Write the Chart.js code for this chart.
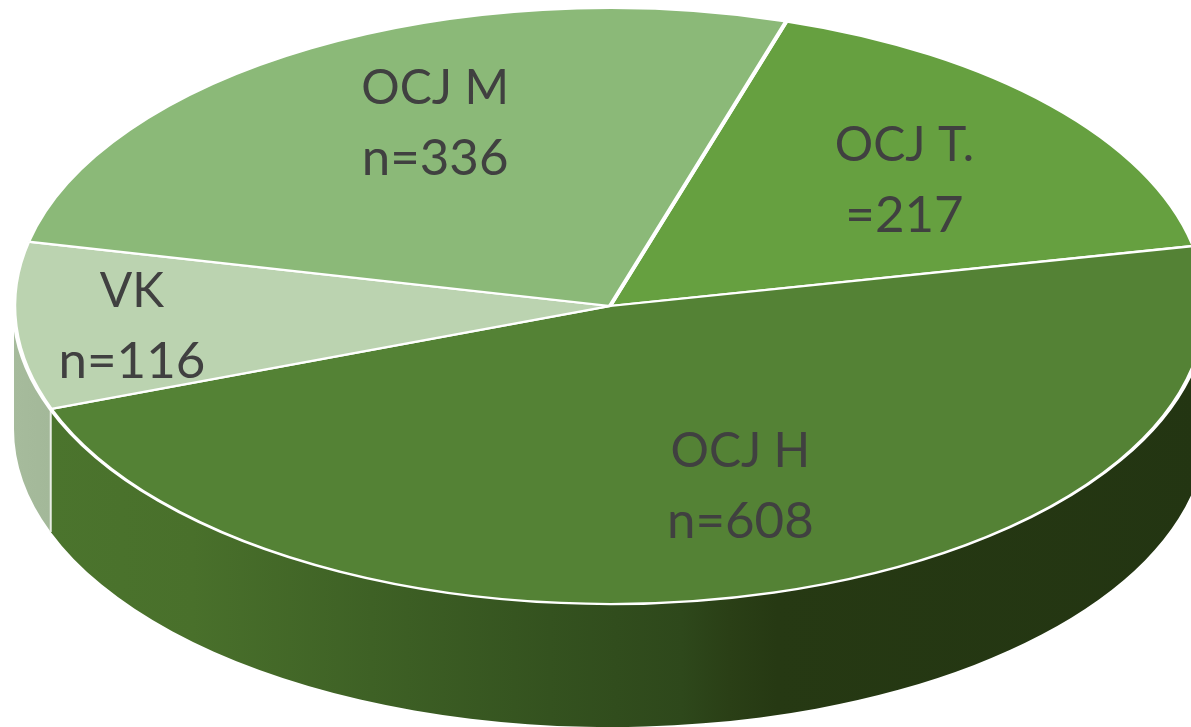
<!DOCTYPE html>
<html>
<head>
<meta charset="utf-8">
<style>
  html, body { margin: 0; background: #fff; overflow: hidden; }
  canvas { display: block; }
</style>
<script src="https://cdn.jsdelivr.net/npm/chart.js@4"></script>
</head>
<body>
<canvas id="pie" width="1191" height="727"></canvas>
<script>
// slices, clockwise from the top-right one
const names  = ['OCJ T.', 'OCJ H', 'VK', 'OCJ M'];
const counts = ['=217', 'n=608', 'n=116', 'n=336'];
const values = [217, 608, 116, 336];

const colors = ['#66a040', '#548235', '#bbd3b0', '#8bb978'];

const SQUASH = 0.5;     // tilt of the disc
const DEPTH  = 123;     // height of the side wall
const RADIUS = 596;

// side wall shading per slice, [position along x, colour]
const wallStops = {
  1: [[0.03, '#4b742d'], [0.15, '#49702b'], [0.3, '#3e6125'], [0.45, '#34521f'], [0.56, '#2e481b'], [0.6, '#2a3f16'], [0.64, '#263913'], [1, '#233512']],
  2: [[0, '#a6bb9c'], [0.03, '#a3b899']]
};

// label nudges from the slice centre, polar: radius fraction, degrees
const labelSpots = [[0.65, 1.7], [0.645, -3.9], [0.805, -1], [0.68, 4.6]];

const depthPlugin = {
  id: 'depth',
  beforeDatasetsDraw(chart) {
    const ctx = chart.ctx;
    const arcs = chart.getDatasetMeta(0).data;
    const cx = arcs[0].x, cy = arcs[0].y;
    const r = arcs[0].outerRadius, ry = r * SQUASH;

    // walls first
    arcs.forEach((arc, i) => {
      const lo = Math.max(arc.startAngle, 0);
      const hi = Math.min(arc.endAngle, Math.PI);
      if (lo >= hi) return;
      const g = ctx.createLinearGradient(cx - r, 0, cx + r, 0);
      (wallStops[i] || []).forEach(s => g.addColorStop(s[0], s[1]));
      ctx.beginPath();
      ctx.ellipse(cx, cy, r, ry, 0, lo, hi);
      ctx.ellipse(cx, cy + DEPTH, r, ry, 0, hi, lo, true);
      ctx.closePath();
      ctx.fillStyle = g;
      ctx.fill();
      // seam between two wall pieces
      if (lo > 0) {
        const x = cx + r * Math.cos(lo), y = cy + ry * Math.sin(lo);
        ctx.beginPath();
        ctx.moveTo(x, y);
        ctx.lineTo(x, y + DEPTH);
        ctx.strokeStyle = '#e8ece4';
        ctx.lineWidth = 2;
        ctx.stroke();
      }
    });

    // squash the pie itself
    ctx.save();
    ctx.translate(cx, cy);
    ctx.scale(1, SQUASH);
    ctx.translate(-cx, -cy);
  },
  afterDatasetsDraw(chart) {
    const ctx = chart.ctx;
    ctx.restore();

    const arcs = chart.getDatasetMeta(0).data;
    ctx.fillStyle = '#404040';
    ctx.textAlign = 'center';
    ctx.textBaseline = 'middle';
    arcs.forEach((arc, i) => {
      const mid = (arc.startAngle + arc.endAngle) / 2 + labelSpots[i][1] * Math.PI / 180;
      const x = arc.x + arc.outerRadius * labelSpots[i][0] * Math.cos(mid);
      const y = arc.y + arc.outerRadius * SQUASH * labelSpots[i][0] * Math.sin(mid);
      ctx.font = '48px Lato, "Open Sans", sans-serif';
      ctx.fillText(names[i], x, y - 35);
      ctx.font = '51px Lato, "Open Sans", sans-serif';
      ctx.fillText(counts[i], x, y + 35);
    });
  }
};

new Chart(document.getElementById('pie'), {
  type: 'pie',
  data: {
    labels: names,
    datasets: [{
      data: values,
      backgroundColor: colors,
      borderColor: '#fff',
      borderWidth: 4.5,
      clip: false
    }]
  },
  options: {
    responsive: false,
    animation: false,
    rotation: 17.2,
    radius: RADIUS,
    layout: { padding: { left: 29, bottom: 115 } },
    plugins: { legend: { display: false }, tooltip: { enabled: false } }
  },
  plugins: [depthPlugin]
});
</script>
</body>
</html>
